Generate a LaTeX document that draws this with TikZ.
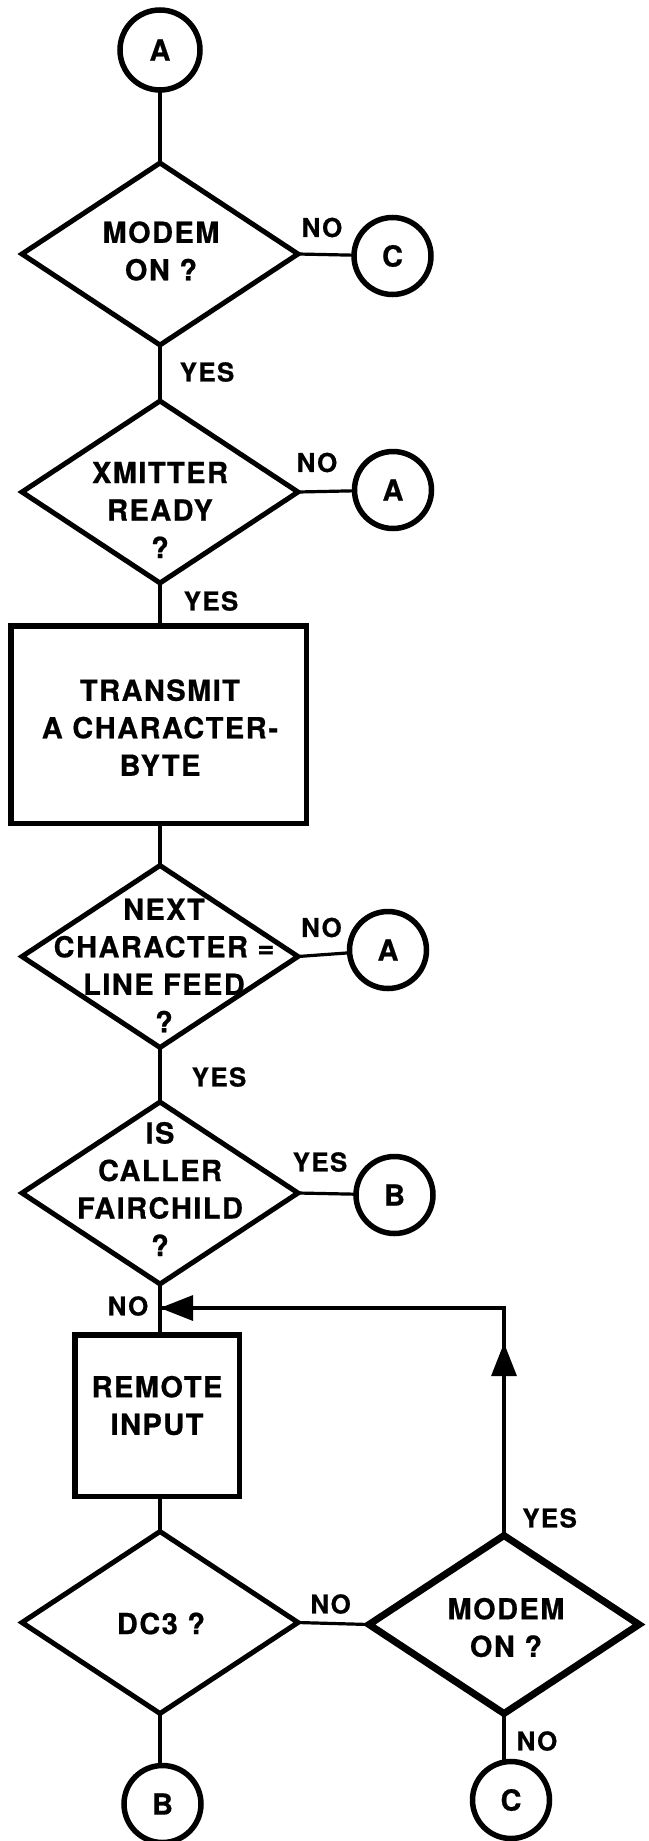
\documentclass[tikz,border=0pt]{standalone}
\usepackage{fontspec}
\setmainfont{TeX Gyre Heros}
\newfontfamily\boxfont[LetterSpace=5,BoldFeatures={FakeBold=0.6}]{TeX Gyre Heros}
\usetikzlibrary{shapes.geometric,arrows.meta}
\begin{document}
\begin{tikzpicture}[x=1pt,y=-1pt,
  dia/.style={draw, shape=diamond, minimum width=276pt, minimum height=182pt, inner sep=0pt, outer sep=0pt, line width=5pt},
  conn/.style={line width=3.2pt},
  circ/.style={draw, circle, minimum size=77pt, inner sep=0pt, outer sep=0pt, line width=5.5pt, font=\boxfont\fontsize{29}{30}\selectfont\bfseries},
  procbox/.style={draw, rectangle, inner sep=0pt, outer sep=0pt, line width=5.5pt},
  txt/.style={font=\boxfont\fontsize{29}{37.5}\selectfont\bfseries, align=center, inner sep=0pt},
  lbl/.style={font=\boxfont\fontsize{26}{30}\selectfont\bfseries, inner sep=0pt},
  arr/.style={-{Triangle[length=33pt,width=25pt]}}
]
\useasboundingbox (0,0) rectangle (648,1841);
% main column
\node[circ, minimum size=80pt] (a0) at (160,50) {A};
\node[dia] (d1) at (160,254) {};
\node[txt] (t1) at (161,251) {MODEM\\ON ?};
\node[circ] (c1) at (392.5,256) {C};
\node[lbl] (n1) at (322,227.5) {NO};
\node[lbl] (y1) at (207,372) {YES};
\node[dia] (d2) at (160,492) {};
\node[txt] (t2) at (160,510) {XMITTER\\READY\\?};
\node[circ] (a1) at (393,490) {A};
\node[lbl] (n2) at (317,462.5) {NO};
\node[lbl] (y2) at (211,601) {YES};
\node[procbox, minimum width=295.5pt, minimum height=197.5pt] (r1) at (158.5,724.5) {};
\node[txt] (t3) at (160,727.5) {TRANSMIT\\A CHARACTER-\\BYTE};
\node[dia] (d3) at (160,956.5) {};
\node[txt] (t4) at (164,965.5) {NEXT\\CHARACTER =\\LINE FEED\\?};
\node[circ] (a2) at (388,950) {A};
\node[lbl] (n3) at (321.5,927.5) {NO};
\node[lbl] (y3) at (219,1077) {YES};
\node[dia] (d4) at (160,1193) {};
\node[txt] (t5) at (160,1189) {IS\\CALLER\\FAIRCHILD\\?};
\node[circ] (b1) at (394.5,1195) {B};
\node[lbl] (y4) at (320,1162) {YES};
\node[lbl] (n4) at (128,1306) {NO};
\node[procbox, minimum width=164.5pt, minimum height=161.5pt] (r2) at (157,1415.5) {};
\node[txt] (t6) at (157,1405.5) {REMOTE\\INPUT};
\node[dia] (d5) at (160,1622.5) {};
\node[txt] (t7) at (161,1623.5) {DC3 ?};
\node[dia, minimum width=270pt, minimum height=178pt, line width=7pt] (d6) at (504,1624.5) {};
\node[txt] (t8) at (506,1627.5) {MODEM\\ON ?};
\node[lbl] (n5) at (330.6,1604) {NO};
\node[lbl] (y5) at (549.6,1518) {YES};
\node[lbl] (n6) at (537,1741) {NO};
\node[circ] (b2) at (162.5,1804) {B};
\node[circ] (c2) at (511,1800) {C};
% connectors
\draw[conn] (a0) -- (d1.north);
\draw[conn] (d1.east) -- (c1);
\draw[conn] (d1.south) -- (d2.north);
\draw[conn] (d2.east) -- (a1);
\draw[conn] (d2.south) -- (d2.south |- r1.north);
\draw[conn] (d2.south |- r1.south) -- (d3.north);
\draw[conn] (d3.east) -- (a2);
\draw[conn] (d3.south) -- (d4.north);
\draw[conn] (d4.east) -- (b1);
\draw[conn] (d4.south) -- (d4.south |- r2.north);
\draw[conn] (d4.south |- r2.south) -- (d5.north);
\draw[conn] (d5.east) -- (d6.west);
\draw[conn] (d5.south) -- (d5.south |- b2.north);
\draw[conn] (d6.south) -- (d6.south |- c2.north);
\coordinate (j) at (160,1308);
\coordinate (k) at (d6.north |- j);
\draw[conn] (d6.north) -- (k) -- (j);
\draw[conn, arr] (d6.north) -- ([yshift=-35pt]k);
\draw[conn, arr] (k) -- (j);
\end{tikzpicture}
\end{document}
